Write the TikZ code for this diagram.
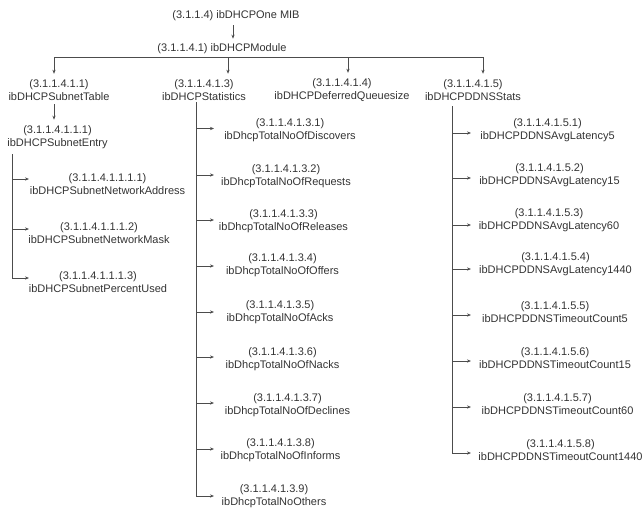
\documentclass[tikz,border=0pt]{standalone}
\usepackage{fontspec}
\setmainfont{Liberation Sans}
\usetikzlibrary{arrows.meta}
\begin{document}
\begin{tikzpicture}[x=1pt,y=-1pt,
  lbl/.style={align=center, inner sep=0pt, font=\fontsize{11}{13}\selectfont, text=black!80},
  wire/.style={draw=black!70, line width=0.75pt},
  arr/.style={wire, -{Stealth[length=4pt,width=3.2pt]}}]
\useasboundingbox (0,0) rectangle (643,509);

% root and module
\node[lbl] (mib) at (236,16) {(3.1.1.4) ibDHCPOne MIB};
\node[lbl] (mod) at (222,49) {(3.1.1.4.1) ibDHCPModule};

% second level
\node[lbl] (tbl)  at (59,90)  {(3.1.1.4.1.1)\\ibDHCPSubnetTable};
\node[lbl] (stat) at (204,90) {(3.1.1.4.1.3)\\ibDHCPStatistics};
\node[lbl] (dfq)  at (342,90) {(3.1.1.4.1.4)\\ibDHCPDeferredQueuesize};
\node[lbl] (ddns) at (473,90) {(3.1.1.4.1.5)\\ibDHCPDDNSStats};

% subnet table branch
\node[lbl] (ent) at (57.5,137.5) {(3.1.1.4.1.1.1)\\ibDHCPSubnetEntry};
\node[lbl] (e1) at (107.5,184)  {(3.1.1.4.1.1.1.1)\\ibDHCPSubnetNetworkAddress};
\node[lbl] (e2) at (99,233)     {(3.1.1.4.1.1.1.2)\\ibDHCPSubnetNetworkMask};
\node[lbl] (e3) at (98,282.5)   {(3.1.1.4.1.1.1.3)\\ibDHCPSubnetPercentUsed};

% statistics branch
\node[lbl] (s1) at (290,130.5) {(3.1.1.4.1.3.1)\\ibDhcpTotalNoOfDiscovers};
\node[lbl] (s2) at (286,176.5) {(3.1.1.4.1.3.2)\\ibDhcpTotalNoOfRequests};
\node[lbl] (s3) at (283.5,221.5) {(3.1.1.4.1.3.3)\\ibDhcpTotalNoOfReleases};
\node[lbl] (s4) at (282.5,265.5) {(3.1.1.4.1.3.4)\\ibDhcpTotalNoOfOffers};
\node[lbl] (s5) at (280,312.5) {(3.1.1.4.1.3.5)\\ibDhcpTotalNoOfAcks};
\node[lbl] (s6) at (282.5,359) {(3.1.1.4.1.3.6)\\ibDhcpTotalNoOfNacks};
\node[lbl] (s7) at (287.5,405) {(3.1.1.4.1.3.7)\\ibDhcpTotalNoOfDeclines};
\node[lbl] (s8) at (280.5,450.5) {(3.1.1.4.1.3.8)\\ibDhcpTotalNoOfInforms};
\node[lbl] (s9) at (274,496.5) {(3.1.1.4.1.3.9)\\ibDhcpTotalNoOthers};

% DDNS branch
\node[lbl] (d1) at (547.5,130) {(3.1.1.4.1.5.1)\\ibDHCPDDNSAvgLatency5};
\node[lbl] (d2) at (549.5,175.5) {(3.1.1.4.1.5.2)\\ibDHCPDDNSAvgLatency15};
\node[lbl] (d3) at (549,220.5) {(3.1.1.4.1.5.3)\\ibDHCPDDNSAvgLatency60};
\node[lbl] (d4) at (555.5,264) {(3.1.1.4.1.5.4)\\ibDHCPDDNSAvgLatency1440};
\node[lbl] (d5) at (555,312.5) {(3.1.1.4.1.5.5)\\ibDHCPDDNSTimeoutCount5};
\node[lbl] (d6) at (555,358) {(3.1.1.4.1.5.6)\\ibDHCPDDNSTimeoutCount15};
\node[lbl] (d7) at (557.5,404) {(3.1.1.4.1.5.7)\\ibDHCPDDNSTimeoutCount60};
\node[lbl] (d8) at (560.5,450) {(3.1.1.4.1.5.8)\\ibDHCPDDNSTimeoutCount1440};

% root -> module
\coordinate (rootA) at ([xshift=-3pt,yshift=-4pt]mib.south);
\coordinate (rootB) at ([yshift=5pt]mod.north);
\draw[arr] (rootA) -- (rootA |- rootB);

% bus under the module with four drops
\coordinate (b1) at (54,57);
\coordinate (b2) at (228,57);
\coordinate (b3) at (348,57);
\coordinate (b4) at (483,57);
\draw[wire] (b1) -- (b4);
\foreach \b/\n in {b1/tbl,b2/stat,b3/dfq,b4/ddns}
  \draw[arr, shorten >=5.5pt] (\b) -- (\b |- \n.north);

% subnet table -> entry
\draw[arr, shorten <=3.5pt, shorten >=6pt] (tbl.south -| b1) -- (ent.north -| b1);

% entry spine and its children
\coordinate (entx) at (12.5,0);
\coordinate (enttip) at (29,0);
\coordinate (entTop) at ([yshift=-5pt]ent.south);
\foreach \n/\dy in {e1/5,e2/4,e3/4.5}
  \coordinate (\n a) at ([yshift=\dy pt]\n.center);
\draw[arr] (entTop -| entx) |- (e3a -| enttip);
\foreach \n in {e1,e2}
  \draw[arr] (\n a -| entx) -- (\n a -| enttip);

% statistics spine and its children
\coordinate (statx) at (196.5,0);
\coordinate (stattip) at (214,0);
\coordinate (statTop) at ([yshift=-1.5pt]stat.south);
\foreach \n/\dy in {s1/2,s2/1.5,s3/1.5,s4/-0.5,s5/0.5,s6/2,s7/2,s8/1.5,s9/0.5}
  \coordinate (\n a) at ([yshift=\dy pt]\n.center);
\draw[arr] (statTop -| statx) |- (s9a -| stattip);
\foreach \n in {s1,s2,s3,s4,s5,s6,s7,s8}
  \draw[arr] (\n a -| statx) -- (\n a -| stattip);

% DDNS spine and its children
\coordinate (ddx) at (452.5,0);
\coordinate (ddtip) at (471,0);
\coordinate (ddTop) at ([yshift=-5.5pt]ddns.south);
\foreach \n/\dy in {d1/-3,d2/-2.5,d3/-4.5,d4/-5,d5/-2.5,d6/-3,d7/-3,d8/-3}
  \coordinate (\n a) at ([yshift=\dy pt]\n.center);
\draw[arr] (ddTop -| ddx) |- (d8a -| ddtip);
\foreach \n in {d1,d2,d3,d4,d5,d6,d7}
  \draw[arr] (\n a -| ddx) -- (\n a -| ddtip);
\end{tikzpicture}
\end{document}
